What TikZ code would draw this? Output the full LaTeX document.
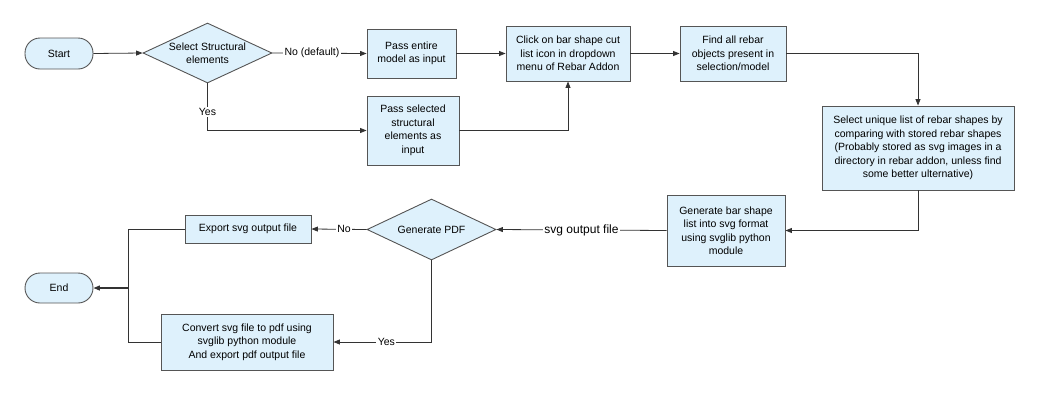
\documentclass[tikz,border=0pt]{standalone}
\usepackage{fontspec}
\setmainfont{Liberation Sans}
\usetikzlibrary{shapes.geometric,arrows.meta}
\definecolor{boxfill}{HTML}{DEF1FC}
\definecolor{boxline}{HTML}{555555}
\definecolor{conn}{HTML}{333333}
\tikzset{
  base/.style={draw=boxline, line width=0.9pt, fill=boxfill, inner sep=0pt, align=center,
    font=\fontsize{10.5}{13.5}\selectfont},
  procbox/.style={base, rectangle},
  termbox/.style={base, rectangle, rounded corners=15pt, minimum width=68pt},
  decbox/.style={base, diamond},
  dectext/.style={align=center, font=\fontsize{10.5}{13.5}\selectfont, inner sep=0pt},
  conn/.style={draw=conn, line width=0.8pt, -{Triangle[length=6.5pt,width=5pt]}},
  plain/.style={draw=conn, line width=0.8pt},
  lbl/.style={fill=white, inner sep=1.5pt, font=\fontsize{10.5}{12}\selectfont},
}
\begin{document}
\begin{tikzpicture}[x=1pt,y=-1pt]
\useasboundingbox (0,0) rectangle (1040,402);
% nodes
\node[termbox, minimum height=31pt] (start) at (59,53.5) {Start};
\node[decbox, minimum width=129pt, minimum height=60pt] (d1) at (207.5,53) {};
\node[dectext] (d1t) at (207.5,53) {Select Structural\\elements};
\node[procbox, minimum width=89pt, minimum height=49pt] (pe) at (411.5,53.5) {Pass entire\\model as input};
\node[procbox, minimum width=124pt, minimum height=55pt] (click) at (568,53.5) {Click on bar shape cut\\list icon in dropdown\\menu of Rebar Addon};
\node[procbox, minimum width=106pt, minimum height=55pt] (find) at (733,53.5) {Find all rebar\\objects present in\\selection/model};
\node[procbox, minimum width=92pt, minimum height=69pt] (ps) at (413,130.5) {Pass selected\\structural\\elements as\\input};
\node[procbox, minimum width=192pt, minimum height=84pt] (sel) at (918,148) {Select unique list of rebar shapes by\\comparing with stored rebar shapes\\(Probably stored as svg images in a\\directory in rebar addon, unless find\\some better ulternative)};
\node[procbox, minimum width=118pt, minimum height=71pt] (gen) at (726,230.5) {Generate bar shape\\list into svg format\\using svglib python\\module};
\node[decbox, minimum width=129pt, minimum height=61pt] (gp) at (431.5,229.5) {};
\node[dectext] (gpt) at (431.5,229.5) {Generate PDF};
\node[procbox, minimum width=126pt, minimum height=28pt] (exp) at (248,229) {Export svg output file};
\node[procbox, minimum width=172pt, minimum height=56pt] (conv) at (247,342) {Convert svg file to pdf using\\svglib python module\\And export pdf output file};
\node[termbox, minimum height=30pt] (end) at (59,288) {End};
\coordinate (join) at (128,288);
% connectors
\draw[conn] (start.east) -- (d1.west);
\draw[conn] (d1.east) -- node[lbl, pos=0.42] {No (default)} (pe.west);
\draw[conn] (d1.south) |- node[lbl, pos=0.3] {Yes} (ps.west);
\draw[conn] (pe.east) -- (click.west);
\draw[conn] (ps.east) -| (click.south);
\draw[conn] (click.east) -- (find.west);
\draw[conn] (find.east) -| (sel.north);
\draw[conn] (sel.south) |- (gen.east);
\draw[conn] (gen.west) -- node[lbl, font=\fontsize{12}{14}\selectfont, pos=0.5] {svg output file} (gp.east);
\draw[conn] (gp.west) -- node[lbl, pos=0.41] {No} (exp.east);
\draw[conn] (gp.south) |- node[lbl, pos=0.73] {Yes} (conv.east);
\draw[plain] (exp.west) -| (join);
\draw[plain] (conv.west) -| (join);
\draw[conn, line width=1.2pt] (join) -- (end.east);
\end{tikzpicture}
\end{document}
